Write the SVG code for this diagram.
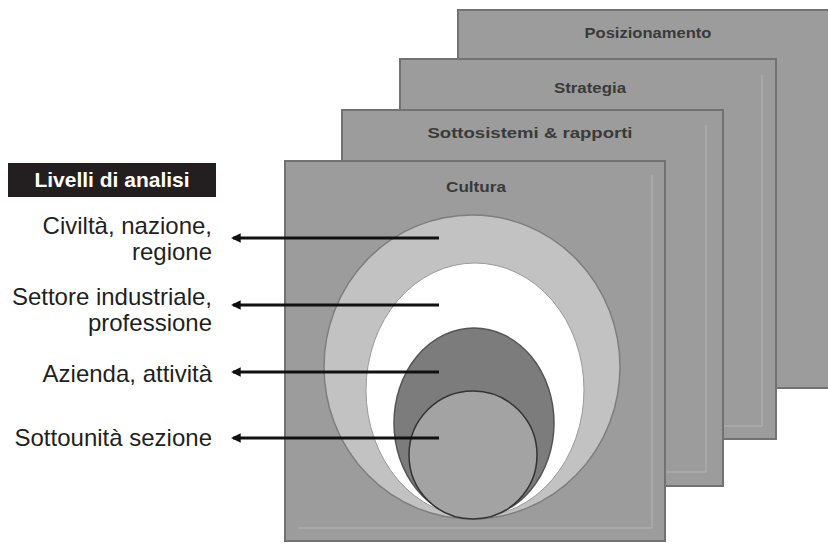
<svg xmlns="http://www.w3.org/2000/svg" width="828" height="545" viewBox="0 0 828 545">
  <style>
    .panel { fill: #9c9c9c; stroke: #727272; stroke-width: 2; }
    .hl { stroke: #acacac; stroke-width: 1.5; fill: none; }
    .ptitle { font-family: "Liberation Sans", Arial, sans-serif; font-size: 14px; font-weight: bold; fill: #3a3a3a; text-anchor: middle; }
    .lbl { font-family: "Liberation Sans", Arial, sans-serif; font-size: 24px; fill: #231f20; text-anchor: end; }
    .hdr { font-family: "Liberation Sans", Arial, sans-serif; font-size: 21px; font-weight: bold; fill: #ffffff; text-anchor: middle; }
    .conn { stroke: #111111; stroke-width: 3; fill: none; marker-end: url(#ah); }
  </style>
  <defs>
    <marker id="ah" viewBox="0 0 10 10" refX="8" refY="5" markerWidth="3.2" markerHeight="3.2" orient="auto">
      <path d="M0,0 L10,5 L0,10 z" fill="#111111"/>
    </marker>
  </defs>
  <rect width="828" height="545" fill="#ffffff"/>

  <g id="panel-posizionamento">
    <rect class="panel" x="458" y="10" width="380" height="378"/>
    <text class="ptitle" x="648" y="38" textLength="127" lengthAdjust="spacingAndGlyphs">Posizionamento</text>
  </g>
  <g id="panel-strategia">
    <rect class="panel" x="400" y="59" width="376" height="380"/>
    <line class="hl" x1="762" y1="75" x2="762" y2="426"/>
    <line class="hl" x1="412" y1="426" x2="762" y2="426"/>
    <text class="ptitle" x="590" y="93" textLength="72" lengthAdjust="spacingAndGlyphs">Strategia</text>
  </g>
  <g id="panel-sottosistemi">
    <rect class="panel" x="342" y="110" width="381" height="376"/>
    <line class="hl" x1="706" y1="125" x2="706" y2="472"/>
    <line class="hl" x1="355" y1="472" x2="706" y2="472"/>
    <text class="ptitle" x="530" y="138" textLength="205" lengthAdjust="spacingAndGlyphs">Sottosistemi &amp; rapporti</text>
  </g>
  <g id="panel-cultura">
    <rect class="panel" x="285" y="161" width="380" height="380"/>
    <line class="hl" x1="652" y1="175" x2="652" y2="528"/>
    <line class="hl" x1="298" y1="528" x2="652" y2="528"/>
    <text class="ptitle" x="476" y="192" textLength="60" lengthAdjust="spacingAndGlyphs">Cultura</text>
  </g>

  <g id="level-civilta">
    <ellipse cx="472" cy="367" rx="148" ry="152" fill="#c2c2c2" stroke="#7e7e7e" stroke-width="1.5"/>
  </g>
  <g id="level-settore">
    <ellipse cx="475" cy="390" rx="109" ry="127" fill="#ffffff" stroke="#9a9a9a" stroke-width="1"/>
  </g>
  <g id="level-azienda">
    <ellipse cx="474" cy="423" rx="80" ry="95" fill="#7c7c7c" stroke="#555555" stroke-width="1.5"/>
  </g>
  <g id="level-sottounita">
    <ellipse cx="473" cy="455" rx="64" ry="64" fill="#a3a3a3" stroke="#333333" stroke-width="1.5"/>
  </g>

  <g id="header">
    <rect x="8" y="163" width="208" height="34" fill="#231f20"/>
    <text class="hdr" x="112" y="187">Livelli di analisi</text>
  </g>

  <g id="labels">
    <text class="lbl" x="212" y="234">Civiltà, nazione,</text>
    <text class="lbl" x="212" y="260">regione</text>
    <text class="lbl" x="212" y="305">Settore industriale,</text>
    <text class="lbl" x="212" y="331">professione</text>
    <text class="lbl" x="212" y="382">Azienda, attività</text>
    <text class="lbl" x="212" y="446">Sottounità sezione</text>
  </g>

  <g id="connectors">
    <line class="conn" x1="439" y1="238" x2="233" y2="238"/>
    <line class="conn" x1="439" y1="305" x2="233" y2="305"/>
    <line class="conn" x1="439" y1="372" x2="233" y2="372"/>
    <line class="conn" x1="439" y1="438" x2="233" y2="438"/>
  </g>
</svg>
